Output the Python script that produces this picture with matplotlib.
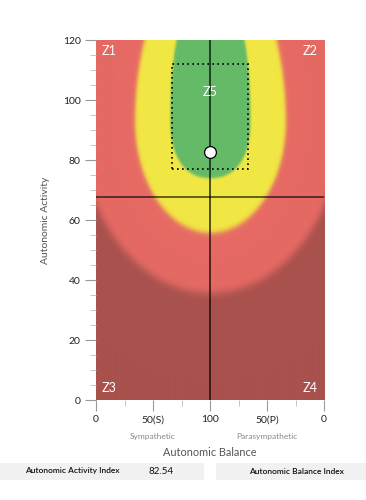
import numpy as np
import matplotlib.pyplot as plt
from matplotlib.patches import Rectangle

plt.rcParams['font.family'] = ['Lato', 'DejaVu Sans']

# axis ticks
x_ticks = [0, 50, 100, 150, 200]
x_labels = ['0', '50(S)', '100', '50(P)', '0']
y_ticks = [0, 20, 40, 60, 80, 100, 120]

# zone boundaries around the balance centre: rx, ry_up, ry_down, exponent
zone_center = (100, 93)
zone_shapes = {
    'green': (35, 45, 19, 2.3),
    'yellow': (66, 56, 37.3, 2.0),
    'red': (114, 100, 57.4, 2.0),
}
zone_colors = ['#64ba67', '#f2e844', '#e66a64', '#a9514d']

# measured values
activity_index = 82.54
balance_index = 100
activity_split = 67.7
z5_x = [67, 133]
z5_y = [77, 112]
zone_labels = ['Z1', 'Z2', 'Z3', 'Z4', 'Z5']


def zone_norm(X, Y, shape):
    rx, ry_up, ry_down, p = shape
    ry = np.where(Y > zone_center[1], ry_up, ry_down)
    return (np.abs((X - zone_center[0]) / rx) ** p + np.abs((Y - zone_center[1]) / ry) ** p) ** (1 / p)


xs = np.linspace(0, 200, 500)
ys = np.linspace(0, 120, 360)
X, Y = np.meshgrid(xs, ys)

cols = [np.array(plt.matplotlib.colors.to_rgb(c)) for c in zone_colors]
img = np.ones(X.shape + (3,)) * cols[0]
for i, key in enumerate(['green', 'yellow', 'red']):
    d = zone_norm(X, Y, zone_shapes[key])
    t = 1 / (1 + np.exp(-(d - 1) / 0.014))
    img = img * (1 - t[..., None]) + cols[i + 1] * t[..., None]

fig = plt.figure(figsize=(3.66, 5), dpi=100)
ax = fig.add_axes([96 / 366, 0.2, 228 / 366, 0.72])
ax.imshow(img, origin='lower', extent=[0, 200, 0, 120], aspect='auto', interpolation='bilinear')

ax.axhline(activity_split, color='black', alpha=0.75, lw=1.1)
ax.axvline(balance_index, color='black', alpha=0.7, lw=1.3)
ax.add_patch(Rectangle((z5_x[0], z5_y[0]), z5_x[1] - z5_x[0], z5_y[1] - z5_y[0],
                       fill=False, ls=(0, (1, 2)), lw=1.2, ec='black'))
ax.plot([balance_index], [activity_index], 'o', ms=8.5, mfc='white', mec='black', mew=0.9)

tk = dict(color='white', fontsize=9)
ax.text(5, 116.5, zone_labels[0], ha='left', va='center', **tk)
ax.text(194, 116.5, zone_labels[1], ha='right', va='center', **tk)
ax.text(5, 4, zone_labels[2], ha='left', va='center', **tk)
ax.text(194, 4, zone_labels[3], ha='right', va='center', **tk)
ax.text(100, 102.7, zone_labels[4], ha='center', va='center', **tk)

ax.set_xlim(0, 200)
ax.set_ylim(0, 120)
ax.set_xticks(x_ticks)
ax.set_xticklabels(x_labels)
ax.set_xticks([25, 75, 125, 175], minor=True)
ax.set_yticks(y_ticks)
ax.set_yticks(np.arange(0, 121, 5), minor=True)
ax.tick_params(which='major', length=8, width=0.8, color='#999999', labelsize=7.5, labelcolor='#222222', pad=3)
ax.tick_params(which='minor', length=4, width=0.6, color='#bbbbbb')
for s in ax.spines.values():
    s.set_visible(False)

ax.set_ylabel('Autonomic Activity', fontsize=7.5, color='#555555', labelpad=9)

fig.text(153 / 366, 1 - 437 / 500, 'Sympathetic', ha='center', va='center', fontsize=6, color='#888888')
fig.text(267 / 366, 1 - 437 / 500, 'Parasympathetic', ha='center', va='center', fontsize=6, color='#888888')
fig.text(210 / 366, 1 - 452 / 500, 'Autonomic Balance', ha='center', va='center', fontsize=7.8, color='#555555')

fig.patches.append(Rectangle((0, 1 - 480 / 500), 204 / 366, 17 / 500, transform=fig.transFigure,
                             fc='#f1f1f1', ec='none'))
fig.patches.append(Rectangle((216 / 366, 1 - 480 / 500), 150 / 366, 17 / 500, transform=fig.transFigure,
                             fc='#f1f1f1', ec='none'))
fig.text(72 / 366, 1 - 471 / 500, 'Autonomic Activity Index', ha='center', va='center', fontsize=6,
         color='#111111', weight='semibold')
fig.text(161 / 366, 1 - 471 / 500, '%.2f' % activity_index, ha='center', va='center', fontsize=7, color='#111111')
fig.text(296 / 366, 1 - 471 / 500, 'Autonomic Balance Index', ha='center', va='center', fontsize=6,
         color='#111111', weight='semibold')

fig.savefig('out.png', dpi=100)
